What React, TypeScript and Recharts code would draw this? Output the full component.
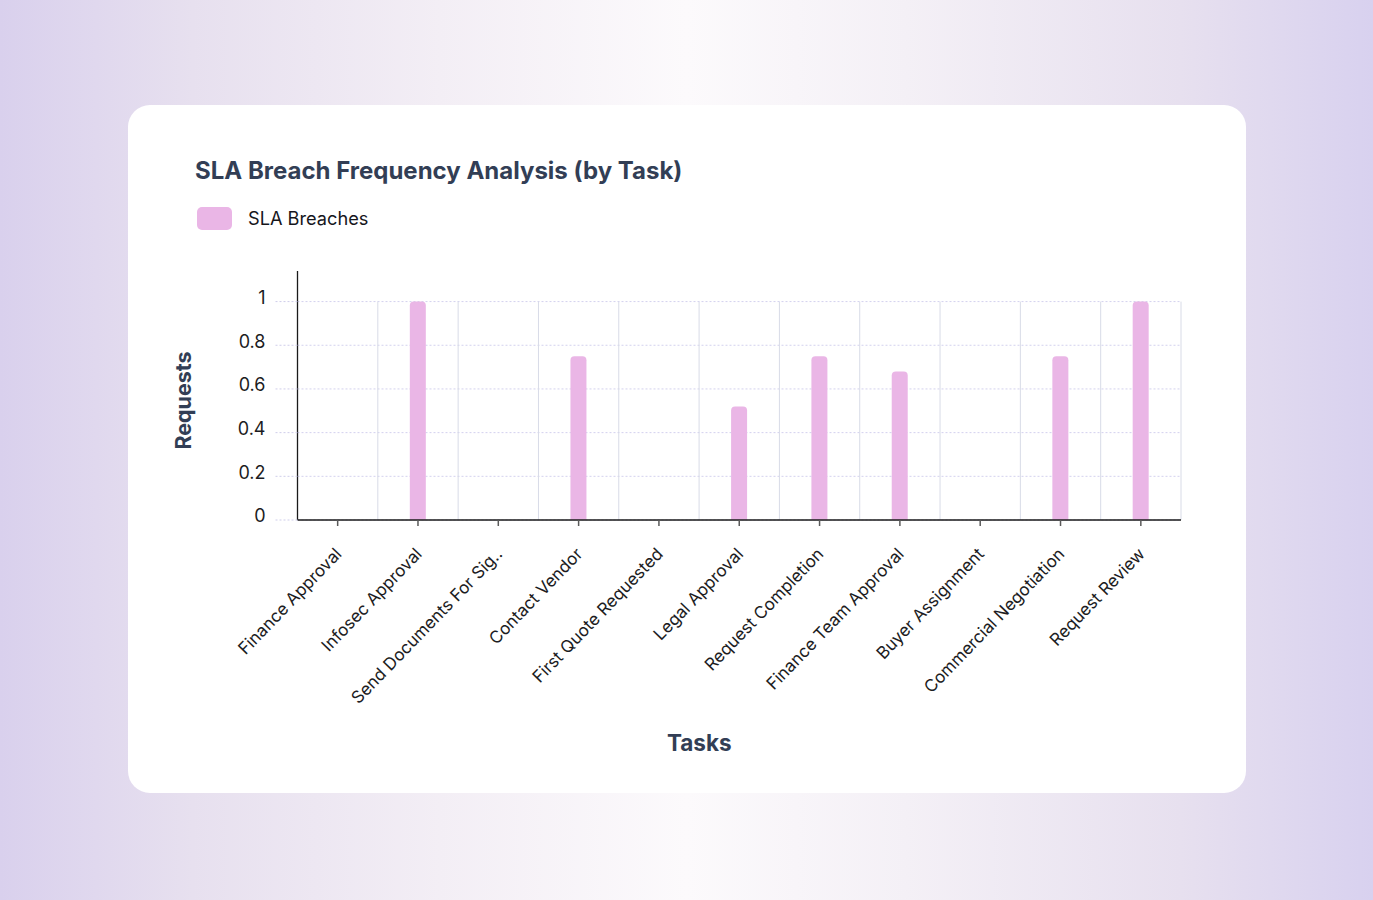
import { Bar, BarChart, CartesianGrid, ReferenceLine, XAxis, YAxis } from 'recharts'

const tasks = [
  'Finance Approval',
  'Infosec Approval',
  'Send Documents For Sig..',
  'Contact Vendor',
  'First Quote Requested',
  'Legal Approval',
  'Request Completion',
  'Finance Team Approval',
  'Buyer Assignment',
  'Commercial Negotiation',
  'Request Review',
]
const slaBreaches = [0, 1, 0, 0.75, 0, 0.52, 0.75, 0.68, 0, 0.75, 1]
const yTicks = [0, 0.2, 0.4, 0.6, 0.8, 1]
const seriesName = 'SLA Breaches'

const data = tasks.map((task, i) => ({ task, breaches: slaBreaches[i] }))

const font = 'Inter, "Noto Sans", sans-serif'
const titleColor = '#323e55'
const barColor = '#eab6e6'

function TaskTick({ x, y, payload }: any) {
  return (
    <g transform={`translate(${x + 5},${y + 27})`}>
      <text textAnchor="end" transform="rotate(-46)" fontSize={17} fill="#1c1c22" fontFamily={font}>
        {payload.value}
      </text>
    </g>
  )
}

function YTitle({ viewBox }: any) {
  const cx = viewBox.x - 35
  const cy = viewBox.y + viewBox.height / 2 + 5
  return (
    <text
      x={cx}
      y={cy}
      transform={`rotate(-90, ${cx}, ${cy})`}
      textAnchor="middle"
      dominantBaseline="central"
      fontSize={21.5}
      fontWeight={700}
      fill={titleColor}
      fontFamily={font}
    >
      Requests
    </text>
  )
}

function XTitle({ viewBox }: any) {
  const cx = viewBox.x + viewBox.width / 2 - 40
  const cy = viewBox.y + 222
  return (
    <text x={cx} y={cy} textAnchor="middle" dominantBaseline="central" fontSize={22.5} fontWeight={700} fill={titleColor} fontFamily={font}>
      Tasks
    </text>
  )
}

export default function App() {
  return (
    <div
      style={{
        position: 'fixed',
        inset: 0,
        width: 1373,
        height: 900,
        background:
          'linear-gradient(90deg, #d9d0ed 0%, #e7e0ef 14%, #f3eef5 32%, #fcfafc 50%, #f4f0f6 66%, #e7e0ef 86%, #d8d1ef 100%)',
        fontFamily: font,
      }}
    >
      <div
        style={{
          position: 'absolute',
          left: 128,
          top: 105,
          width: 1118,
          height: 688,
          background: '#ffffff',
          borderRadius: 22,
        }}
      >
        <div
          style={{
            position: 'absolute',
            left: 67,
            top: 50,
            fontSize: 24,
            fontWeight: 700,
            color: titleColor,
            lineHeight: '32px',
            whiteSpace: 'nowrap',
          }}
        >
          SLA Breach Frequency Analysis (by Task)
        </div>
        <div style={{ position: 'absolute', left: 69, top: 102, display: 'flex', alignItems: 'center' }}>
          <div style={{ width: 35, height: 23, borderRadius: 5, background: barColor }} />
          <span style={{ marginLeft: 16, fontSize: 18.2, color: '#16161c', lineHeight: '23px' }}>{seriesName}</span>
        </div>
        <div style={{ position: 'absolute', left: 0, top: 0 }}>
          <BarChart width={1118} height={688} data={data} margin={{ top: 166, right: 65, bottom: 33, left: 89.5 }}>
            <CartesianGrid vertical={false} horizontalValues={yTicks} stroke="#d3d1ee" strokeDasharray="2 2" />
            {tasks.map((t) => (
              <ReferenceLine
                key={t}
                segment={[
                  { x: t, y: 0 },
                  { x: t, y: 1 },
                ]}
                position="end"
                stroke="#d8dbe7"
                strokeWidth={1}
              />
            ))}
            <XAxis
              dataKey="task"
              interval={0}
              height={240}
              tickSize={6}
              tickLine={{ stroke: '#5a5a5a', strokeWidth: 1.5 }}
              axisLine={{ stroke: '#1a1a1a', strokeWidth: 1.3 }}
              tick={<TaskTick />}
              label={<XTitle />}
            />
            <YAxis
              width={80}
              domain={[0, 1.14]}
              ticks={yTicks}
              allowDataOverflow
              tickSize={22}
              tickMargin={10}
              tickLine={{ stroke: '#cfcdea', strokeDasharray: '2 2' }}
              axisLine={{ stroke: '#1a1a1a', strokeWidth: 1.3 }}
              tick={{ fontSize: 18, fill: '#1c1c22', fontFamily: font, dy: -4 }}
              label={<YTitle />}
            />
            <Bar
              dataKey="breaches"
              name={seriesName}
              fill={barColor}
              barSize={16}
              radius={[4, 4, 0, 0]}
              isAnimationActive={false}
            />
          </BarChart>
        </div>
      </div>
    </div>
  )
}
